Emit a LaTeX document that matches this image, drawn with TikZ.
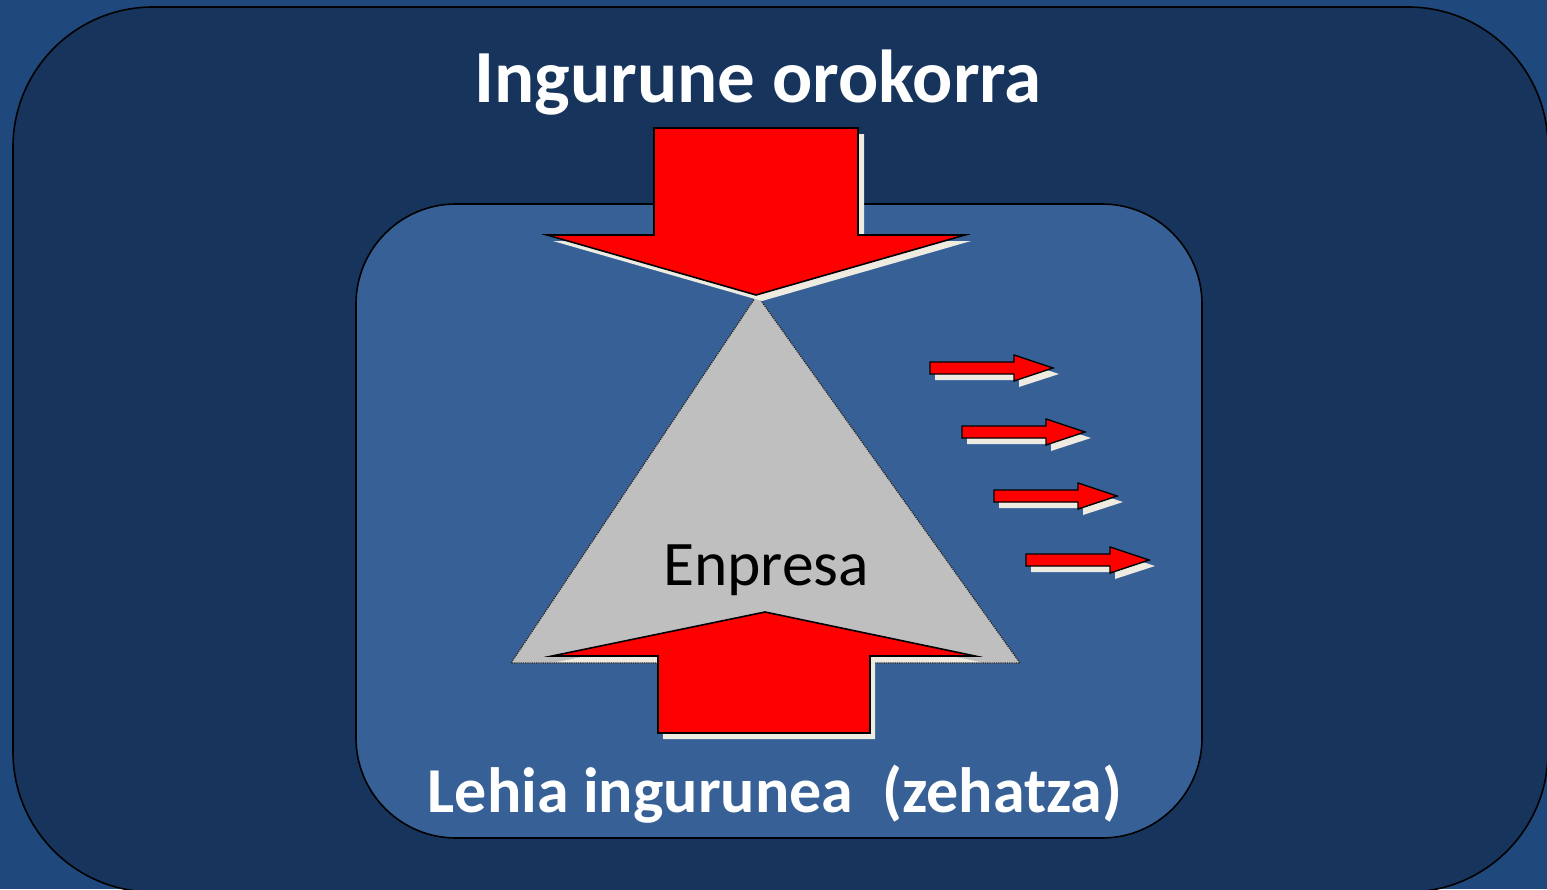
\documentclass[tikz,border=0pt]{standalone}
\usepackage{fontspec}
\setmainfont{Carlito}
\definecolor{bgc}{HTML}{1F487C}
\definecolor{outerc}{HTML}{17355C}
\definecolor{innerc}{HTML}{376196}
\definecolor{shadowc}{HTML}{EEEBE0}
\definecolor{trig}{HTML}{BFBFBF}
\definecolor{arrred}{HTML}{FF0000}
\tikzset{
  panel/.style={draw=black, line width=1.6pt},
  redarrow/.style={fill=arrred, draw=black, line width=1.6pt, line join=miter},
  shadowarrow/.style={fill=shadowc},
  whitetitle/.style={text=white, font=\bfseries\fontsize{75}{80}\selectfont, inner sep=0pt, anchor=base},
  whitesub/.style={text=white, font=\bfseries\fontsize{64}{68}\selectfont, inner sep=0pt, anchor=base},
  blacktext/.style={text=black, font=\fontsize{63.5}{68}\selectfont, inner sep=0pt, anchor=base}
}
\begin{document}
\begin{tikzpicture}[x=1pt,y=-1pt]
\useasboundingbox (0,0) rectangle (1547,889);
\fill[bgc] (0,0) rectangle (1547,889);
\begin{scope}
\clip (0,0) rectangle (1547,889);
\draw[panel, fill=outerc, rounded corners=140pt] (13,7) rectangle (1548,892);
\end{scope}
\draw[panel, fill=innerc, rounded corners=100pt] (356,204) rectangle (1202,838);
% triangle
\coordinate (apex) at (757,295);
\coordinate (bl) at (511,663);
\coordinate (br) at (1020,663);
\draw[fill=trig, draw=black!85, densely dotted, line width=1.2pt] (apex) -- (br) -- (bl) -- cycle;
% top arrow
\begin{scope}[shift={(6,6)}]
\fill[shadowarrow] (654,128) -- (858,128) -- (858,235) -- (965,235) -- (756,295) -- (547,235) -- (654,235) -- cycle;
\end{scope}
\draw[redarrow] (654,128) -- (858,128) -- (858,235) -- (965,235) -- (756,295) -- (547,235) -- (654,235) -- cycle;
% bottom arrow
\begin{scope}[shift={(5,6)}]
\fill[shadowarrow] (765,612) -- (975,656) -- (870,656) -- (870,733) -- (658,733) -- (658,656) -- (552,656) -- cycle;
\end{scope}
\draw[redarrow] (765,612) -- (975,656) -- (870,656) -- (870,733) -- (658,733) -- (658,656) -- (552,656) -- cycle;
% small arrows
\foreach \i in {0,1,2,3}{
  \begin{scope}[shift={(930+32*\i,368+64*\i)}]
    \fill[shadowarrow] (5,0) -- (89,0) -- (89,-7) -- (129,6) -- (89,19) -- (89,12) -- (5,12) -- cycle;
    \draw[redarrow, line width=1.4pt] (0,-6) -- (84,-6) -- (84,-13) -- (123,0) -- (84,13) -- (84,6) -- (0,6) -- cycle;
  \end{scope}
}
% texts
\node[whitetitle] (title) at (758,102) {Ingurune orokorra};
\node[blacktext] (enpresa) at (766,585) {Enpresa};
\node[whitesub] (lehia) at (775,812) {Lehia ingurunea\ \ (zehatza)};
\end{tikzpicture}
\end{document}
